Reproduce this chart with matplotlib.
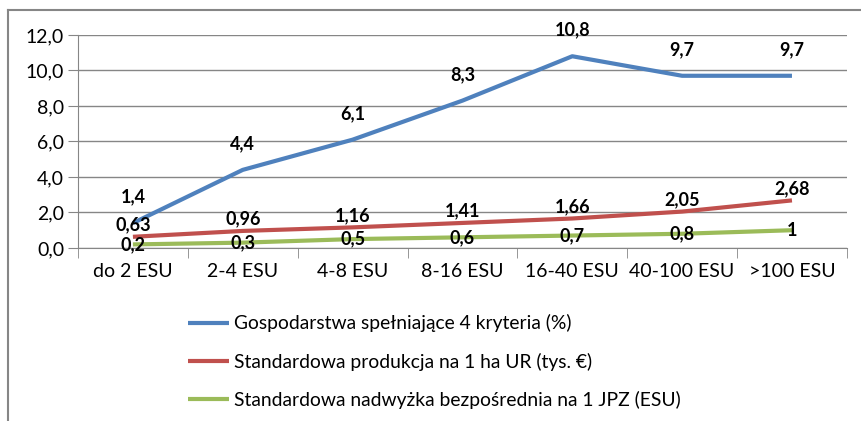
import matplotlib.pyplot as plt
from matplotlib.lines import Line2D

plt.rcParams['font.family'] = ['Lato', 'DejaVu Sans']

# Dane
kategorie = ["do 2 ESU", "2-4 ESU", "4-8 ESU", "8-16 ESU", "16-40 ESU", "40-100 ESU", ">100 ESU"]
gospodarstwa = [1.4, 4.4, 6.1, 8.3, 10.8, 9.7, 9.7]
produkcja = [0.63, 0.96, 1.16, 1.41, 1.66, 2.05, 2.68]
nadwyzka = [0.2, 0.3, 0.5, 0.6, 0.7, 0.8, 1.0]
etykiety_g = ["1,4", "4,4", "6,1", "8,3", "10,8", "9,7", "9,7"]
etykiety_p = ["0,63", "0,96", "1,16", "1,41", "1,66", "2,05", "2,68"]
etykiety_n = ["0,2", "0,3", "0,5", "0,6", "0,7", "0,8", "1"]
nazwy = ["Gospodarstwa spełniające 4 kryteria (%)",
         "Standardowa produkcja na 1 ha UR (tys. €)",
         "Standardowa nadwyżka bezpośrednia na 1 JPZ (ESU)"]
kolory = ["#4F81BD", "#C0504D", "#9BBB59"]

fig = plt.figure(figsize=(8.61, 4.21), dpi=100)
ax = fig.add_axes([0.0906, 0.411, 0.893, 0.506])

x = list(range(len(kategorie)))
for serie, kolor, nazwa in zip([gospodarstwa, produkcja, nadwyzka], kolory, nazwy):
    ax.plot(x, serie, color=kolor, lw=3, label=nazwa, solid_capstyle='butt')

# Etykiety danych
for i in x:
    ax.annotate(etykiety_g[i], (i, gospodarstwa[i]), xytext=(0, 26), textcoords='offset pixels',
                ha='center', va='center', fontsize=13, fontweight='bold')
    ax.annotate(etykiety_p[i], (i, produkcja[i]), xytext=(0, 12), textcoords='offset pixels',
                ha='center', va='center', fontsize=13, fontweight='bold')
    ax.annotate(etykiety_n[i], (i, nadwyzka[i]), xytext=(0, 0), textcoords='offset pixels',
                ha='center', va='center', fontsize=13, fontweight='bold')

ax.set_xlim(-0.5, len(kategorie) - 0.5)
ax.set_ylim(0, 12)
ax.set_yticks([0, 2, 4, 6, 8, 10, 12])
ax.set_yticklabels([f"{v:.1f}".replace(".", ",") for v in [0, 2, 4, 6, 8, 10, 12]], fontsize=14)
ax.set_xticks(x)
ax.set_xticklabels(kategorie, fontsize=14)
ax.set_xticks([i - 0.5 for i in range(len(kategorie) + 1)], minor=True)
ax.tick_params(axis='x', which='major', length=0, pad=11)
ax.tick_params(axis='x', which='minor', length=7, color='#868686')
ax.tick_params(axis='y', length=7, color='#868686', pad=3)
ax.grid(axis='y', color='#868686', lw=1)
ax.set_axisbelow(True)
for s in ['top', 'right']:
    ax.spines[s].set_visible(False)
for s in ['left', 'bottom']:
    ax.spines[s].set_color('#868686')

# Legenda pod wykresem
ax.legend(loc='upper left', bbox_to_anchor=(0.133, -0.275), frameon=False, fontsize=13.9,
          handlelength=2.1, handletextpad=0.3, labelspacing=1.05, borderaxespad=0)

# Ramka wykresu
fig.add_artist(Line2D([8 / 861, 1], [1 - 10 / 421] * 2, color='#868686', lw=1.5))
fig.add_artist(Line2D([8 / 861] * 2, [0, 1 - 10 / 421], color='#868686', lw=1.5))

fig.savefig("out.png", dpi=100)
